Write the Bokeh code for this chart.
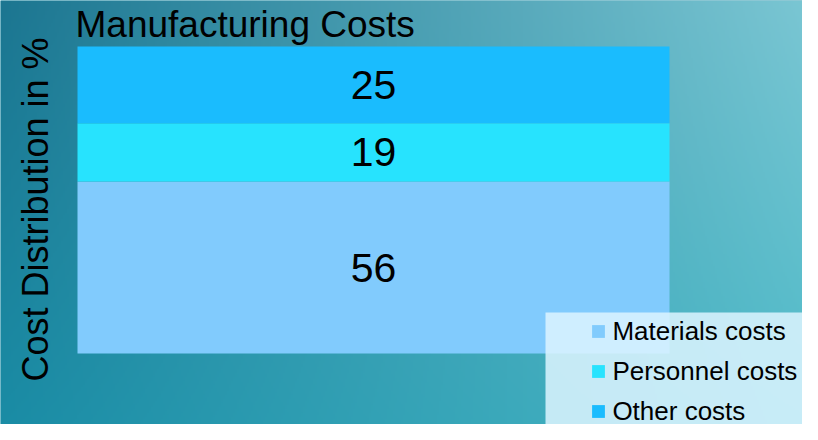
import numpy as np
from bokeh.plotting import figure
from bokeh.models import Range1d, ColumnDataSource, Legend, LegendItem
from bokeh.core.properties import value
from bokeh.embed import file_html
from bokeh.resources import INLINE

# ---- data ----
categories = ["Manufacturing Costs"]
series_names = ["Materials costs", "Personnel costs", "Other costs"]
materials = [56]
personnel = [19]
other = [25]
colors = ["#81cbfd", "#27e3fe", "#1abcfe"]
title_text = "Manufacturing Costs"
y_label = "Cost Distribution in %"

W, H = 802, 424
FONT = "Liberation Sans"

# layout (pixels from top-left of canvas)
bar_left, bar_right, bar_top, bar_bottom = 77, 669, 46, 353
ppx_x = bar_right - bar_left
ppx_y = (bar_bottom - bar_top) / 100.0

x_range = Range1d(-0.5 - bar_left / ppx_x, 0.5 + (W - bar_right) / ppx_x)
y_range = Range1d(-(H - bar_bottom) / ppx_y, 100 + bar_top / ppx_y)

p = figure(width=W, height=H, x_range=x_range, y_range=y_range,
           output_backend="svg", toolbar_location=None, tools="",
           min_border=0, min_border_left=0, min_border_right=0,
           min_border_top=0, min_border_bottom=0)
p.xaxis.visible = False
p.yaxis.visible = False
p.grid.visible = False
p.outline_line_color = None
p.border_fill_color = "#2a95ad"
p.background_fill_color = "#2a95ad"

p.extra_x_ranges = {"px": Range1d(0, W)}
p.extra_y_ranges = {"px": Range1d(0, H)}

# background gradient (decoration)
ny, nx = H // 2, W // 2
u = np.linspace(0, 1, nx)[None, :]
v = np.linspace(0, 1, ny)[:, None]  # 0 = bottom, 1 = top
tl = np.array([28, 118, 145]); tr = np.array([122, 198, 211])
bl = np.array([26, 140, 165]); br = np.array([78, 186, 200])
img = np.zeros((ny, nx, 4), dtype=np.uint8)
for c in range(3):
    top = tl[c] * (1 - u) + tr[c] * u
    bot = bl[c] * (1 - u) + br[c] * u
    img[:, :, c] = np.clip(bot * (1 - v) + top * v, 0, 255).astype(np.uint8)
img[:, :, 3] = 255
rgba = img.view(dtype=np.uint32).reshape((ny, nx))
p.image_rgba(image=[rgba], x=0, y=0, dw=W, dh=H,
             x_range_name="px", y_range_name="px")

# stacked bars
xs = list(range(len(categories)))
source = ColumnDataSource(dict(x=xs, materials=materials,
                               personnel=personnel, other=other))
renderers = p.vbar_stack(["materials", "personnel", "other"], x="x", width=1,
                         source=source, color=colors, line_color=None)

# value labels
lab_x, lab_y, lab_t = [], [], []
for i in range(len(categories)):
    base = 0
    for vals in (materials, personnel, other):
        lab_x.append(xs[i])
        lab_y.append(base + vals[i] / 2)
        lab_t.append(str(vals[i]))
        base += vals[i]
p.text(x=lab_x, y=lab_y, text=lab_t, text_align="center", text_baseline="middle",
       text_font=value(FONT), text_font_size="41px", text_color="black")

# legend background box
p.quad(left=[545], right=[W], top=[H - 312], bottom=[0],
       fill_color="#ddf5ff", fill_alpha=0.85, line_color=None,
       x_range_name="px", y_range_name="px")

items = [LegendItem(label=name, renderers=[r]) for name, r in zip(series_names, renderers)]
legend = Legend(items=items, location=(590.4, -2.5),
                background_fill_alpha=0, border_line_color=None,
                padding=10, glyph_width=16, glyph_height=16,
                label_height=31, spacing=9, label_standoff=6,
                label_text_font=FONT, label_text_font_size="26px",
                label_text_color="black", margin=0)
p.add_layout(legend, "center")

# title and axis label (text glyphs in pixel space)
p.text(x=[75], y=[H - 24], text=[title_text], text_align="left",
       text_baseline="middle", text_font=value(FONT), text_font_size="37px",
       text_color="black", x_range_name="px", y_range_name="px")
p.text(x=[34.5], y=[H - 209], text=[y_label], angle=np.pi / 2, text_align="center",
       text_baseline="middle", text_font=value(FONT), text_font_size="36px",
       text_color="black", x_range_name="px", y_range_name="px")

open("out.html", "w").write(file_html(p, INLINE))
